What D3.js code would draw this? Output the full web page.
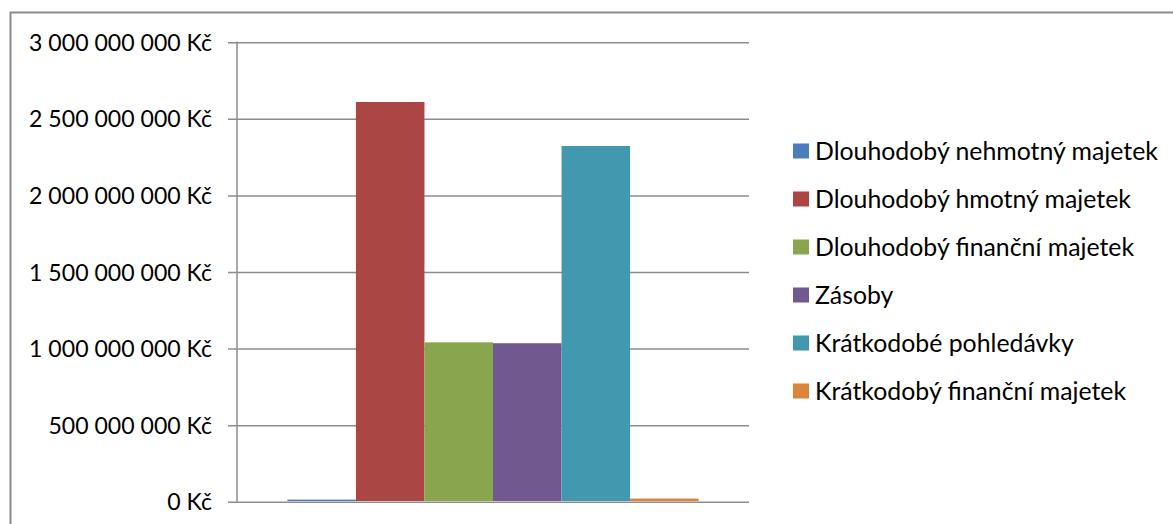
<!DOCTYPE html>
<html><head><meta charset="utf-8">
<script src="https://cdn.jsdelivr.net/npm/d3@7"></script>
<style>html,body{margin:0;padding:0;background:#fff;overflow:hidden}</style>
</head><body>
<svg id="c" width="1173" height="524"></svg>
<script>
const category = ["Aktiva"];
const seriesNames = ["Dlouhodobý nehmotný majetek","Dlouhodobý hmotný majetek","Dlouhodobý finanční majetek","Zásoby","Krátkodobé pohledávky","Krátkodobý finanční majetek"];
const seriesValues = [9000000, 2605000000, 1036000000, 1030000000, 2318000000, 16000000];
const seriesColors = ["#4a7ebb","#aa4643","#89a54e","#71588f","#4198af","#db843d"];
const tickValues = [0, 500000000, 1000000000, 1500000000, 2000000000, 2500000000, 3000000000];
const tickLabels = ["0 Kč","500 000 000 Kč","1 000 000 000 Kč","1 500 000 000 Kč","2 000 000 000 Kč","2 500 000 000 Kč","3 000 000 000 Kč"];

(function(){
const FONT = "Lato, 'Open Sans', sans-serif";
const svg = d3.select("#c");
const pL = 237, pR = 749, pT = 41.5, pB = 501;

svg.append("rect").attr("x",10.5).attr("y",12.5).attr("width",1200).attr("height",600)
  .attr("fill","none").attr("stroke","#8c8c8c").attr("stroke-width",2);

const y = d3.scaleLinear().domain([0,3000000000]).range([pB, pT]);
const x0 = d3.scaleBand().domain(category).range([pL,pR]).paddingOuter(0.1225).paddingInner(0);
const x1 = d3.scaleBand().domain(seriesNames).range([0, x0.bandwidth()]).padding(0);

const yAxis = d3.axisLeft(y).tickValues(tickValues).tickFormat((d,i)=>tickLabels[i])
  .tickSizeInner(-(pR-pL)).tickSizeOuter(0).tickPadding(25);
const ag = svg.append("g").attr("transform",`translate(${pL},0.75)`).call(yAxis);
ag.select(".domain").remove();
ag.selectAll(".tick line").attr("stroke","#8c8c8c").attr("stroke-width",1.5).attr("x1",-9);
ag.selectAll(".tick text").attr("fill","#000").style("font-family",FONT).style("font-size","18px");
svg.append("line").attr("x1",pL).attr("x2",pL).attr("y1",pT).attr("y2",pB+1.5)
  .attr("stroke","#8c8c8c").attr("stroke-width",1.5);

svg.append("g").selectAll("rect").data(seriesNames.map((n,i)=>({n,v:seriesValues[i],c:seriesColors[i]})))
  .join("rect")
  .attr("x",d=>x0(category[0])+x1(d.n))
  .attr("y",d=>y(d.v))
  .attr("width",x1.bandwidth())
  .attr("height",d=>y(0)-y(d.v))
  .attr("fill",d=>d.c);

const t3 = ag.selectAll(".tick text").filter((d)=>d===3000000000).node();
const w = t3.getComputedTextLength();
const fs = 18*183/w;
ag.selectAll(".tick text").style("font-size",fs+"px").attr("x",-25).attr("dy","0.35em");

const lg = svg.append("g");
const rowY = [151, 199, 247, 295, 343, 391];
seriesNames.forEach((n,i)=>{
  lg.append("rect").attr("x",793).attr("y",rowY[i]-7.5).attr("width",16).attr("height",15).attr("fill",seriesColors[i]);
  lg.append("text").attr("x",815).attr("y",rowY[i]).attr("dy","0.35em").text(n)
    .style("font-family",FONT).style("font-size","20px").attr("fill","#000");
});
const lt = lg.selectAll("text").nodes()[0];
const lfs = 20*343/lt.getComputedTextLength();
lg.selectAll("text").style("font-size",lfs+"px");
})();
</script>
</body></html>
